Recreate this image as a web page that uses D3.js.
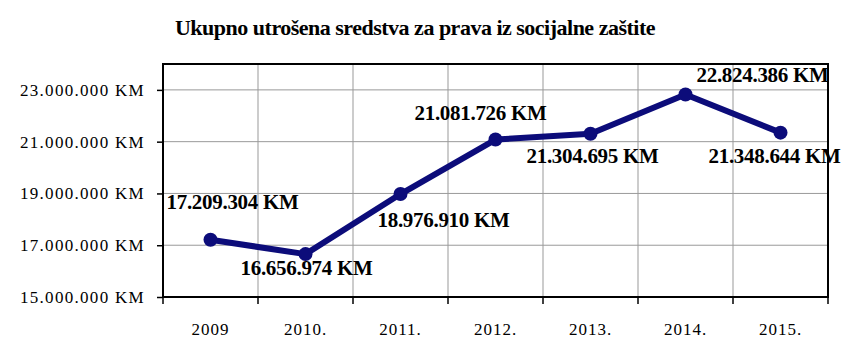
<!DOCTYPE html>
<html>
<head>
<meta charset="utf-8">
<script src="https://cdn.jsdelivr.net/npm/d3@7"></script>
<style>
  body { margin: 0; background: #fff; }
  text { font-family: "Liberation Serif", "Times New Roman", serif; }
</style>
</head>
<body>
<script>
// Podaci
var godine = ["2009", "2010.", "2011.", "2012.", "2013.", "2014.", "2015."]
var iznosi = [17209304, 16656974, 18976910, 21081726, 21304695, 22824386, 21348644]
var yTicks = [15000000, 17000000, 19000000, 21000000, 23000000]
// pomak natpisa u odnosu na tacku [dx, dy]
var pomaci = [[22, -31], [1, 21], [43, 33], [-15, -20], [2, 29], [77, -12], [-6, 30]]

var width = 851, height = 361
var margin = {top: 64, right: 23, bottom: 64, left: 163}

var fmt = function(v) {
    return d3.format(",")(v).replace(/,/g, ".") + " KM"
}

var svg = d3.select("body").append("svg")
    .attr("width", width)
    .attr("height", height)

var x = d3.scaleBand()
    .domain(godine)
    .range([margin.left, width - margin.right])

var y = d3.scaleLinear()
    .domain([15000000, 24000000])
    .range([height - margin.bottom, margin.top])

// naslov
svg.append("text")
    .attr("x", 415)
    .attr("y", 35)
    .attr("text-anchor", "middle")
    .style("font-size", "22px")
    .style("font-weight", "bold")
    .style("letter-spacing", "-0.5px")
    .text("Ukupno utrošena sredstva za prava iz socijalne zaštite")

// mreza - horizontalne linije
svg.append("g")
    .selectAll("line")
    .data(yTicks.slice(1))
    .enter()
    .append("line")
    .attr("x1", margin.left)
    .attr("x2", width - margin.right)
    .attr("y1", d => y(d))
    .attr("y2", d => y(d))
    .style("stroke", "#999")

// mreza - vertikalne linije
svg.append("g")
    .selectAll("line")
    .data(godine.slice(1))
    .enter()
    .append("line")
    .attr("x1", d => x(d))
    .attr("x2", d => x(d))
    .attr("y1", margin.top)
    .attr("y2", height - margin.bottom)
    .style("stroke", "#999")

// okvir
svg.append("rect")
    .attr("x", margin.left)
    .attr("y", margin.top)
    .attr("width", width - margin.left - margin.right)
    .attr("height", height - margin.top - margin.bottom)
    .style("fill", "none")
    .style("stroke", "#000")
    .style("stroke-width", 2)

// y osa
var yAxis = svg.append("g")
    .attr("transform", "translate(" + margin.left + ",0)")
    .call(d3.axisLeft(y).tickValues(yTicks).tickFormat(fmt).tickSize(6).tickPadding(12))
yAxis.select(".domain").remove()
yAxis.selectAll("line").style("stroke", "#000").style("stroke-width", 1.5)
yAxis.selectAll("text")
    .style("font-size", "17px")
    .style("letter-spacing", "1.3px")
    .style("fill", "#000")
    .style("font-family", "'Liberation Serif', serif")

// x osa - podioci na granicama kategorija
var granice = godine.map(d => x(d)).concat([width - margin.right])
svg.append("g")
    .selectAll("line")
    .data(granice)
    .enter()
    .append("line")
    .attr("x1", d => d)
    .attr("x2", d => d)
    .attr("y1", height - margin.bottom)
    .attr("y2", height - margin.bottom + 7)
    .style("stroke", "#000")
    .style("stroke-width", 1.5)

svg.append("g")
    .selectAll("text")
    .data(godine)
    .enter()
    .append("text")
    .attr("x", d => x(d) + x.bandwidth() / 2)
    .attr("y", 335)
    .attr("text-anchor", "middle")
    .style("font-size", "17px")
    .style("letter-spacing", "1px")
    .text(d => d)

// linija
var tacke = godine.map((g, i) => ({godina: g, iznos: iznosi[i], pomak: pomaci[i]}))

var linija = d3.line()
    .x(d => x(d.godina) + x.bandwidth() / 2)
    .y(d => y(d.iznos))

svg.append("path")
    .datum(tacke)
    .attr("d", linija)
    .style("fill", "none")
    .style("stroke", "#0c0c7a")
    .style("stroke-width", 6)
    .style("stroke-linejoin", "round")

svg.append("g")
    .selectAll("circle")
    .data(tacke)
    .enter()
    .append("circle")
    .attr("cx", d => x(d.godina) + x.bandwidth() / 2)
    .attr("cy", d => y(d.iznos))
    .attr("r", 7)
    .style("fill", "#0c0c7a")

// natpisi vrijednosti
svg.append("g")
    .selectAll("text")
    .data(tacke)
    .enter()
    .append("text")
    .attr("x", d => x(d.godina) + x.bandwidth() / 2 + d.pomak[0])
    .attr("y", d => y(d.iznos) + d.pomak[1])
    .attr("text-anchor", "middle")
    .style("font-size", "21px")
    .style("font-weight", "bold")
    .style("letter-spacing", "-0.3px")
    .text(d => fmt(d.iznos))
</script>
</body>
</html>
